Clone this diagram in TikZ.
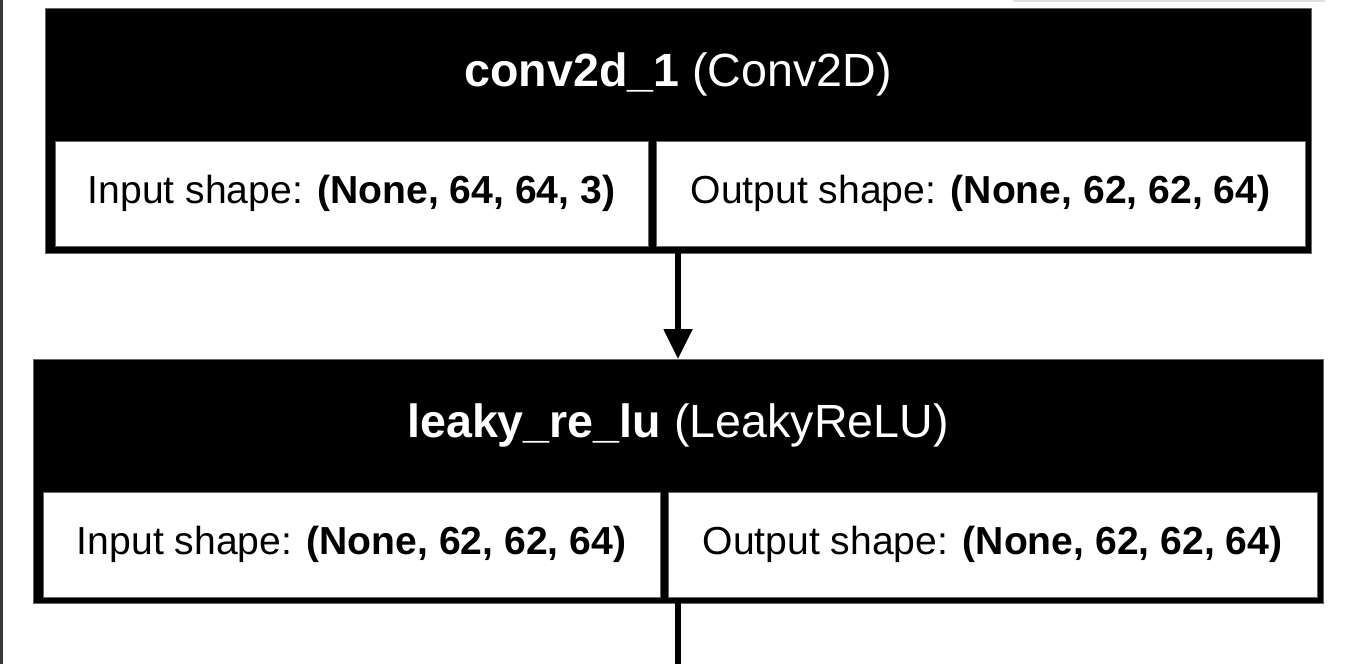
\documentclass[tikz,border=0pt]{standalone}
\usepackage{fontspec}
\setmainfont{Liberation Sans}
\usetikzlibrary{arrows.meta}

\tikzset{
  layer/.style={fill=black, draw=black!60, line width=0.4pt, inner sep=0pt, outer sep=0pt},
  cell/.style={fill=white, draw=black!60, line width=0.4pt, inner sep=0pt, outer sep=0pt,
    minimum height=52.5pt, font=\fontsize{19.55pt}{23pt}\selectfont},
  title/.style={text=white, inner sep=0pt, font=\fontsize{23.3pt}{27pt}\selectfont},
  flow/.style={line width=2.6pt, -{Triangle[width=14pt,length=15pt]}},
}

\begin{document}
\begin{tikzpicture}[x=0.5pt, y=-0.5pt]
\useasboundingbox (0,0) rectangle (1354,664);
\fill[white] (0,0) rectangle (1354,664);
% screen edges
\fill[black!78] (0,0) rectangle (3,664);
\fill[black!12] (1013,0) rectangle (1325,2);

% first layer
\node[layer, minimum width=633pt, minimum height=122.5pt] (conv) at (678,130.5) {};
\node[title] (conv-name) at (678,74.5) {\textbf{conv2d\_1} (Conv2D)};
\node[cell, minimum width=296.5pt] (conv-in) at (351.5,193.5) {Input shape: \textbf{(None, 64, 64, 3)}};
\node[cell, minimum width=324.5pt] (conv-out) at (980.5,193.5) {Output shape: \textbf{(None, 62, 62, 64)}};

% second layer
\node[layer, minimum width=645pt, minimum height=122pt] (leaky) at (678,481) {};
\node[title] (leaky-name) at (678,425.5) {\textbf{leaky\_re\_lu} (LeakyReLU)};
\node[cell, minimum width=308.5pt] (leaky-in) at (351.5,544.5) {Input shape: \textbf{(None, 62, 62, 64)}};
\node[cell, minimum width=324.5pt] (leaky-out) at (992.5,544.5) {Output shape: \textbf{(None, 62, 62, 64)}};

\draw[flow] (conv.south) -- (leaky.north);
\coordinate (next) at (678,664);
\draw[line width=2.6pt] (leaky.south) -- (next);
\end{tikzpicture}
\end{document}
